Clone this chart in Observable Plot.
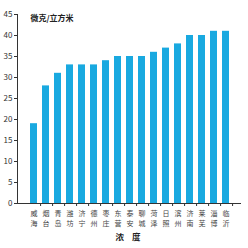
<!DOCTYPE html>
<html>
<head>
<meta charset="utf-8">
<script src="https://cdn.jsdelivr.net/npm/d3@7"></script>
<script src="https://cdn.jsdelivr.net/npm/@observablehq/plot@0.6"></script>
<style>
html,body{margin:0;padding:0;background:#fff;}
#chart svg{display:block;}
</style>
</head>
<body>
<div id="chart"></div>
<script>
const cities = ["威海","烟台","青岛","潍坊","济宁","德州","枣庄","东营","泰安","聊城","菏泽","日照","滨州","济南","莱芜","淄博","临沂"];
const values = [19,28,31,33,33,33,34,35,35,35,36,37,38,40,40,41,41];
const yTicks = [0,5,10,15,20,25,30,35,40,45];
const unitLabel = "微克/立方米";
const xTitle = "浓 度";

const data = cities.map((c, i) => ({city: c, value: values[i]}));
const W = 248, H = 248, mL = 17, mR = 7, mT = 14, mB = 45;
const step = (W - mL - mR) / cities.length;
const font = "'Noto Sans CJK SC', 'Liberation Sans', sans-serif";

const chart = Plot.plot({
  width: W,
  height: H,
  marginLeft: mL,
  marginRight: mR,
  marginTop: mT,
  marginBottom: mB,
  style: {fontFamily: font, fontSize: "8px", color: "#333", background: "#fff"},
  x: {domain: cities, padding: 0.42, axis: null},
  y: {domain: [0, 45], ticks: yTicks, tickSize: 3, tickPadding: 2, line: true, label: null},
  marks: [
    Plot.barY(data, {x: "city", y: "value", fill: "#19a9e0"}),
    Plot.ruleY([0], {stroke: "#333"}),
    Plot.ruleX(cities, {x: d => d, y1: 0, y2: 0, insetBottom: -3, dx: step / 2, stroke: "#333"}),
    Plot.text(cities, {x: d => d, y: 0, text: d => d[0], dy: 10.5, fontSize: 7, fill: "#444"}),
    Plot.text(cities, {x: d => d, y: 0, text: d => d[1], dy: 20.5, fontSize: 7, fill: "#444"}),
    Plot.text([unitLabel], {frameAnchor: "top-left", text: d => d, dx: 13, dy: 1, fontWeight: "bold", fontSize: 8, fill: "#222", textAnchor: "start"}),
    Plot.text([xTitle], {frameAnchor: "bottom", text: d => d, dy: 36, fontWeight: "bold", fontSize: 8.5, fill: "#222"})
  ]
});
d3.select(chart).selectAll("text").filter(function() { return this.textContent === xTitle; })
  .style("letter-spacing", "3px").style("white-space", "pre");
document.getElementById("chart").appendChild(chart);
</script>
</body>
</html>
